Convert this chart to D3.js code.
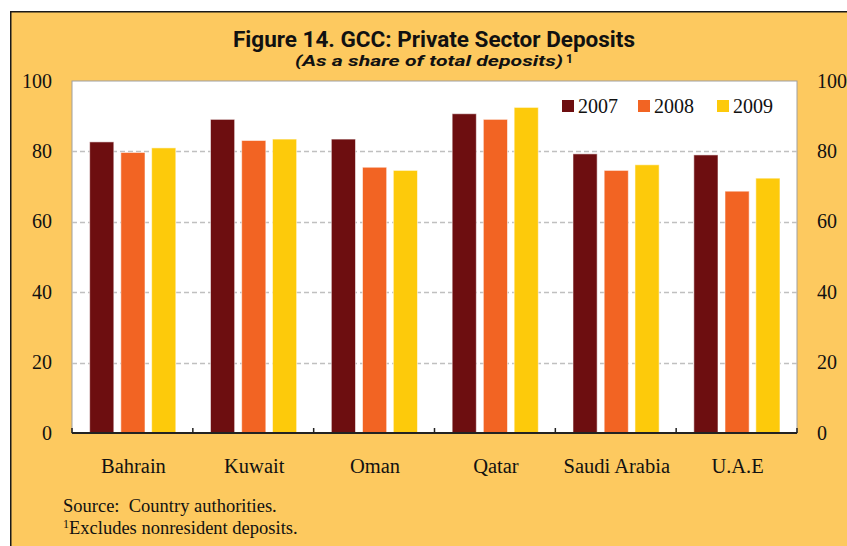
<!DOCTYPE html>
<html><head><meta charset="utf-8">
<script src="https://cdn.jsdelivr.net/npm/d3@7"></script>
<style>
html,body{margin:0;padding:0;background:#fff;}
svg{display:block;}
</style></head>
<body>
<script>
const categories = ["Bahrain","Kuwait","Oman","Qatar","Saudi Arabia","U.A.E"];
const seriesNames = ["2007","2008","2009"];
const values2007 = [82.7, 89.1, 83.5, 90.7, 79.3, 79.0];
const values2008 = [79.7, 83.1, 75.5, 89.1, 74.6, 68.7];
const values2009 = [81.0, 83.5, 74.6, 92.5, 76.2, 72.4];
const yTicks = [0, 20, 40, 60, 80, 100];
const colors = ["#6D0E10", "#F26423", "#FDCA0B"];

(function(){
const W = 847, H = 546;
const svg = d3.select("body").append("svg").attr("width", W).attr("height", H);
const serif = "'Liberation Serif', 'Times New Roman', serif";
const sans = "'Liberation Sans Narrow', 'Roboto', 'Liberation Sans', sans-serif";

// frame
svg.append("rect").attr("x", 11).attr("y", 12).attr("width", W - 11).attr("height", H - 12).attr("fill", "#FDC95F");
svg.append("line").attr("x1", 10.75).attr("x2", 10.75).attr("y1", 11).attr("y2", H).attr("stroke", "#1a1a1a").attr("stroke-width", 1.5);
svg.append("line").attr("x1", 10).attr("x2", W).attr("y1", 11.75).attr("y2", 11.75).attr("stroke", "#1a1a1a").attr("stroke-width", 1.5);

const pL = 72, pR = 797, pT = 81, pB = 433;
const x = d3.scaleBand().domain(categories).range([pL, pR]).paddingInner(0).paddingOuter(0);
const y = d3.scaleLinear().domain([0, 100]).range([pB, pT]);

// plot area
svg.append("rect").attr("x", pL).attr("y", pT).attr("width", pR - pL).attr("height", pB - pT)
  .attr("fill", "#fff").attr("stroke", "#a0a0a0").attr("stroke-width", 1);

// gridlines
svg.append("g").selectAll("line").data(yTicks.filter(t => t > 0 && t < 100)).join("line")
  .attr("x1", pL).attr("x2", pR).attr("y1", d => Math.round(y(d)) + 0.5).attr("y2", d => Math.round(y(d)) + 0.5)
  .attr("stroke", "#c0c0c0").attr("stroke-width", 1.5).attr("stroke-dasharray", "5,3");

// bars
const series = [values2007, values2008, values2009];
const bw = x.bandwidth();
const barW = bw * 0.2;
const offsets = [-0.258, 0.0, 0.255];
series.forEach((vals, si) => {
  svg.append("g").selectAll("rect").data(categories).join("rect")
    .attr("x", (c) => x(c) + bw * (0.5 + offsets[si]) - barW / 2 + 0.5)
    .attr("y", (c, i) => y(vals[i]))
    .attr("width", barW)
    .attr("height", (c, i) => y(0) - y(vals[i]))
    .attr("fill", colors[si])
    .attr("stroke", "rgba(255,255,255,0.55)").attr("stroke-width", 1);
});

// x axis
svg.append("line").attr("x1", pL).attr("x2", pR).attr("y1", pB).attr("y2", pB).attr("stroke", "#222").attr("stroke-width", 2);
const boundaries = categories.map(c => x(c)).concat([pR]);
svg.append("g").selectAll("line").data(boundaries).join("line")
  .attr("x1", d => d).attr("x2", d => d).attr("y1", pB).attr("y2", pB - 5)
  .attr("stroke", "#222").attr("stroke-width", 1.5);

// category labels
svg.append("g").selectAll("text").data(categories).join("text")
  .attr("x", c => x(c) + bw / 2 + 1).attr("y", 473)
  .attr("text-anchor", "middle")
  .attr("font-family", serif).attr("font-size", 20.5).attr("fill", "#111")
  .text(c => c);

// y axis labels left and right
const yAxisL = d3.axisLeft(y).tickValues(yTicks).tickSize(0).tickPadding(20);
const gL = svg.append("g").attr("transform", `translate(${pL},0)`).call(yAxisL);
gL.select(".domain").remove();
gL.selectAll("text").attr("font-family", serif).attr("font-size", 20).attr("fill", "#111").attr("dy", "0.3em");
const yAxisR = d3.axisRight(y).tickValues(yTicks).tickSize(0).tickPadding(20);
const gR = svg.append("g").attr("transform", `translate(${pR},0)`).call(yAxisR);
gR.select(".domain").remove();
gR.selectAll("text").attr("font-family", serif).attr("font-size", 20).attr("fill", "#111").attr("dy", "0.3em");

// legend
const legX = [562, 638, 717];
seriesNames.forEach((s, i) => {
  svg.append("rect").attr("x", legX[i]).attr("y", 100).attr("width", 12).attr("height", 12).attr("fill", colors[i]);
  svg.append("text").attr("x", legX[i] + 16).attr("y", 112.5)
    .attr("font-family", serif).attr("font-size", 20).attr("fill", "#111").text(s);
});

// title
svg.append("text").attr("x", 434).attr("y", 46.5).attr("text-anchor", "middle")
  .attr("font-family", sans).attr("font-weight", "bold")
  .attr("font-size", 21.5).attr("fill", "#111")
  .attr("textLength", 402).attr("lengthAdjust", "spacingAndGlyphs")
  .text("Figure 14. GCC: Private Sector Deposits");
svg.append("text").attr("x", 295).attr("y", 65.5)
  .attr("font-family", sans).attr("font-weight", "bold")
  .attr("font-style", "italic").attr("font-size", 15.5).attr("fill", "#111")
  .attr("textLength", 268).attr("lengthAdjust", "spacingAndGlyphs")
  .text("(As a share of total deposits)");
svg.append("text").attr("x", 566).attr("y", 63)
  .attr("font-family", sans).attr("font-weight", "bold").attr("font-size", 12).attr("fill", "#111").text("1");

// footnotes
svg.append("text").attr("x", 63).attr("y", 512)
  .attr("font-family", serif).attr("font-size", 18.5).attr("fill", "#111")
  .attr("xml:space", "preserve").text("Source:  Country authorities.");
const fn = svg.append("text").attr("x", 63).attr("y", 534)
  .attr("font-family", serif).attr("font-size", 18.5).attr("fill", "#111");
fn.append("tspan").attr("font-size", 12).attr("dy", -6).text("1");
fn.append("tspan").attr("dy", 6).text("Excludes nonresident deposits.");
})();
</script>
</body></html>
